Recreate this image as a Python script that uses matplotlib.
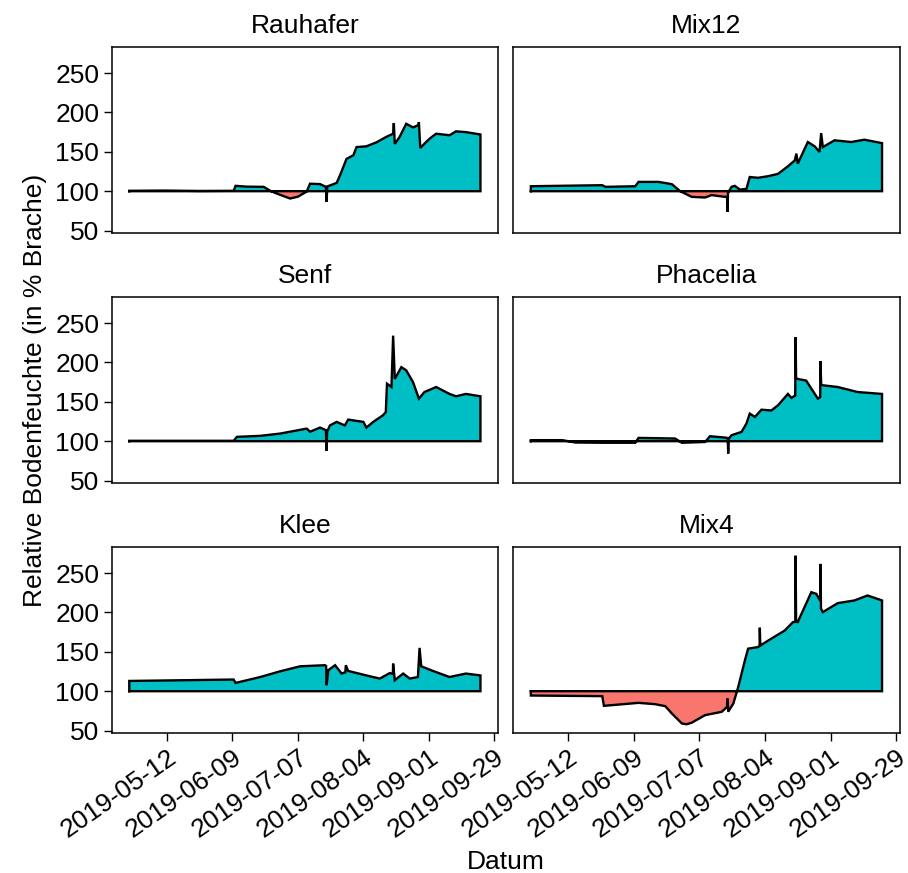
import numpy as np
import pandas as pd
import matplotlib.pyplot as plt
import matplotlib.dates as mdates

plt.rcParams['font.family'] = ['Liberation Sans', 'DejaVu Sans']

# Relative Bodenfeuchte je Variante (in % der Brache)
rauhafer_t = ['2019-04-26', '2019-05-11', '2019-05-26', '2019-06-09 14:00', '2019-06-10 10:00',
              '2019-06-15', '2019-06-22 10:00', '2019-06-25 05:00', '2019-06-28', '2019-07-03 17:00',
              '2019-07-07', '2019-07-10 19:00', '2019-07-12 05:00', '2019-07-16 12:00', '2019-07-19 00:00',
              '2019-07-19 07:00', '2019-07-19 14:00', '2019-07-23 14:00', '2019-07-25', '2019-07-27 19:00',
              '2019-07-30 17:00', '2019-08-01 02:00', '2019-08-05 07:00', '2019-08-09 14:00', '2019-08-13 19:00',
              '2019-08-16 17:00', '2019-08-17 00:00', '2019-08-17 10:00', '2019-08-19 12:00', '2019-08-22 07:00',
              '2019-08-25 05:00', '2019-08-27 14:00', '2019-08-27 17:00', '2019-08-28 07:00', '2019-09-01 07:00',
              '2019-09-04 02:00', '2019-09-09 19:00', '2019-09-12 14:00', '2019-09-16 19:00', '2019-09-23']
rauhafer_v = [100.5, 100.8, 100.3, 100.5, 106.8,
              105.8, 105.5, 100.5, 97, 90.7,
              93, 99.5, 109.5, 109, 105.5,
              86.5, 106, 110.5, 120, 141,
              145.6, 156, 157, 162, 169,
              173, 186.5, 160, 169, 185.6,
              181, 184, 187.8, 155, 166.7,
              173, 171, 176, 175, 172]

mix12_t = ['2019-04-26', '2019-05-26 12:00', '2019-05-27 22:00', '2019-06-09 14:00', '2019-06-11',
           '2019-06-19 14:00', '2019-06-25 05:00', '2019-06-28 19:00', '2019-07-03 17:00', '2019-07-09 10:00',
           '2019-07-12 05:00', '2019-07-17 22:00', '2019-07-18 19:00', '2019-07-19 00:00', '2019-07-19 05:00',
           '2019-07-20 17:00', '2019-07-22 02:00', '2019-07-24 07:00', '2019-07-27 02:00', '2019-07-28 12:00',
           '2019-08-01', '2019-08-05 07:00', '2019-08-09 14:00', '2019-08-13 19:00', '2019-08-16 17:00',
           '2019-08-17 10:00', '2019-08-18', '2019-08-22 07:00', '2019-08-25 05:00', '2019-08-27 07:00',
           '2019-08-28 00:00', '2019-08-28 17:00', '2019-09-02 17:00', '2019-09-09 19:00', '2019-09-15 10:00',
           '2019-09-23']
mix12_v = [106.3, 107.6, 105.5, 106.3, 111.8,
           111.8, 108.9, 100, 92.8, 92,
           95, 92.8, 93, 73.8, 98,
           105.5, 106.8, 102, 103, 118,
           117, 119, 122, 131.6, 139,
           147.7, 135, 162.4, 157, 149.8,
           173.8, 156, 164.6, 162.4, 165.4,
           161]

senf_t = ['2019-04-26', '2019-06-09 14:00', '2019-06-11', '2019-06-21', '2019-06-29 12:00',
          '2019-07-10 19:00', '2019-07-12 05:00', '2019-07-16 12:00', '2019-07-19 00:00', '2019-07-19 07:00',
          '2019-07-19 12:00', '2019-07-20 17:00', '2019-07-23 14:00', '2019-07-27 02:00', '2019-07-28 12:00',
          '2019-08-04', '2019-08-05 07:00', '2019-08-08 05:00', '2019-08-12 10:00', '2019-08-13 14:00',
          '2019-08-14 02:00', '2019-08-16', '2019-08-16 17:00', '2019-08-17 10:00', '2019-08-20 05:00',
          '2019-08-22 07:00', '2019-08-25 05:00', '2019-08-27 17:00', '2019-08-30 02:00', '2019-09-04 02:00',
          '2019-09-09 19:00', '2019-09-12 14:00', '2019-09-16 19:00', '2019-09-23']
senf_v = [100.5, 100.5, 105.5, 106.8, 109.7,
          116, 112, 117.3, 114, 87.8,
          112, 120, 124.5, 120, 127.4,
          124.5, 117.3, 124.5, 133, 137,
          173, 168.8, 234, 179, 194,
          190, 175, 154, 162.4, 168.8,
          160, 157, 160, 157]

phacelia_t = ['2019-04-26', '2019-05-09 12:00', '2019-05-15 02:00', '2019-05-26 12:00', '2019-06-09 14:00',
              '2019-06-11', '2019-06-26 14:00', '2019-06-29 12:00', '2019-07-09 10:00', '2019-07-11 12:00',
              '2019-07-17 22:00', '2019-07-19 02:00', '2019-07-19 07:00', '2019-07-19 12:00', '2019-07-20 17:00',
              '2019-07-25', '2019-07-27 02:00', '2019-07-28 12:00', '2019-07-30 17:00', '2019-08-02 12:00',
              '2019-08-06 17:00', '2019-08-09 14:00', '2019-08-13 19:00', '2019-08-15 07:00', '2019-08-16 22:00',
              '2019-08-17 02:00', '2019-08-17 07:00', '2019-08-18', '2019-08-21 14:00', '2019-08-26 14:00',
              '2019-08-27 14:00', '2019-08-27 17:00', '2019-08-28 00:00', '2019-08-28 17:00', '2019-09-04 02:00',
              '2019-09-12 14:00', '2019-09-23']
phacelia_v = [101.3, 101.3, 98.3, 98, 98,
              104.2, 103.4, 98, 99, 106.3,
              104.6, 104, 84.4, 103, 107.6,
              111.8, 122.4, 135, 130.8, 140,
              139, 145.6, 160, 155, 158,
              232, 180, 179, 177, 154,
              156, 201.7, 172, 171, 168.8,
              162.4, 160]

klee_t = ['2019-04-26', '2019-06-09 14:00', '2019-06-10 10:00', '2019-06-21', '2019-06-29 12:00',
          '2019-07-08', '2019-07-18 14:00', '2019-07-19 02:00', '2019-07-19 07:00', '2019-07-20',
          '2019-07-22 22:00', '2019-07-25 17:00', '2019-07-27 07:00', '2019-07-27 12:00', '2019-07-28 12:00',
          '2019-08-05 07:00', '2019-08-11', '2019-08-15 07:00', '2019-08-16 14:00', '2019-08-16 17:00',
          '2019-08-17 10:00', '2019-08-21', '2019-08-23 19:00', '2019-08-27 07:00', '2019-08-28 00:00',
          '2019-08-28 17:00', '2019-09-02 17:00', '2019-09-09 19:00', '2019-09-16 19:00', '2019-09-23']
klee_v = [113, 114.8, 110.5, 118, 125.3,
          131.6, 133, 132, 107.6, 126.6,
          133, 122.4, 124, 133, 125.7,
          120, 116, 123, 122, 135,
          114, 122.4, 116, 118, 155,
          131.6, 125.7, 118, 122.4, 120]

mix4_t = ['2019-04-26', '2019-05-26 12:00', '2019-05-27 05:00', '2019-06-11', '2019-06-18 02:00',
          '2019-06-22 10:00', '2019-06-25 05:00', '2019-06-29 12:00', '2019-07-01 12:00', '2019-07-03 17:00',
          '2019-07-09 10:00', '2019-07-16 12:00', '2019-07-18 19:00', '2019-07-19 00:00', '2019-07-19 07:00',
          '2019-07-21 12:00', '2019-07-23 14:00', '2019-07-26 10:00', '2019-07-27 19:00', '2019-08-01',
          '2019-08-01 17:00', '2019-08-01 19:00', '2019-08-02 00:00', '2019-08-06 17:00', '2019-08-12 10:00',
          '2019-08-16', '2019-08-17 00:00', '2019-08-17 02:00', '2019-08-17 07:00', '2019-08-18',
          '2019-08-23 19:00', '2019-08-25 22:00', '2019-08-27 14:00', '2019-08-27 17:00', '2019-08-27 22:00',
          '2019-08-28 17:00', '2019-09-04 02:00', '2019-09-11 05:00', '2019-09-16 19:00', '2019-09-23']
mix4_v = [94.5, 93.7, 81.4, 85.2, 83.5,
          81, 71.7, 59, 58, 60,
          69.6, 73.8, 80, 90.7, 74,
          84.4, 105.5, 139, 154, 156,
          158, 180.6, 158, 166.7, 177,
          187.8, 188, 272, 188, 187.8,
          225.7, 223.6, 215, 261.6, 205,
          200.4, 211.8, 215.2, 221.5, 215.2]

varianten = ['Rauhafer', 'Mix12', 'Senf', 'Phacelia', 'Klee', 'Mix4']
zeiten = [rauhafer_t, mix12_t, senf_t, phacelia_t, klee_t, mix4_t]
werte = [rauhafer_v, mix12_v, senf_v, phacelia_v, klee_v, mix4_v]
tick_daten = ['2019-05-12', '2019-06-09', '2019-07-07', '2019-08-04', '2019-09-01', '2019-09-29']

col_hoch = '#00BFC4'
col_tief = '#F8766D'
ref = 100


def to_num(t):
    return mdates.date2num(pd.to_datetime(t, format='mixed'))


W, H = 908, 873
fig = plt.figure(figsize=(W / 100, H / 100), dpi=100)

# gemeinsame Skalen mit 5 % Rand wie bei ggplot
alle_t = np.concatenate([to_num(t) for t in zeiten])
alle_v = np.concatenate([np.array(v) for v in werte])
tx = (alle_t.max() - alle_t.min()) * 0.05
vy = (alle_v.max() - alle_v.min()) * 0.05
xlim = (alle_t.min() - tx, alle_t.max() + tx)
ylim = (alle_v.min() - vy, alle_v.max() + vy)

lefts = [111.7, 513.3]
tops = [47.3, 297.3, 547.3]
pw, ph = 386.3, 185.4

for i, (name, t, v) in enumerate(zip(varianten, zeiten, werte)):
    r, c = divmod(i, 2)
    ax = fig.add_axes([lefts[c] / W, 1 - (tops[r] + ph) / H, pw / W, ph / H])
    x = to_num(t)
    y = np.array(v, dtype=float)

    ax.fill_between(x, y, ref, where=y >= ref, interpolate=True, color=col_hoch, lw=0)
    ax.fill_between(x, y, ref, where=y <= ref, interpolate=True, color=col_tief, lw=0)
    # Umriss der Fläche
    ox = np.concatenate([[x[0]], x, [x[-1], x[0]]])
    oy = np.concatenate([[ref], y, [ref, ref]])
    ax.plot(ox, oy, color='black', lw=1.7, solid_joinstyle='miter')

    ax.set_xlim(xlim)
    ax.set_ylim(ylim)
    ax.set_yticks([50, 100, 150, 200, 250])
    ax.set_xticks(to_num(tick_daten))
    ax.xaxis.set_major_formatter(mdates.DateFormatter('%Y-%m-%d'))
    ax.tick_params(length=5.5, width=1.0, color='black', labelsize=19, pad=3.5)
    for s in ax.spines.values():
        s.set_linewidth(1.1)
    ax.set_title(name, fontsize=19, pad=10)

    if c == 1:
        ax.tick_params(axis='y', left=False, labelleft=False)
    if r < 2:
        ax.tick_params(axis='x', bottom=False, labelbottom=False)
    else:
        for lab in ax.get_xticklabels():
            lab.set_rotation(35)
            lab.set_ha('right')
            lab.set_va('top')
            lab.set_rotation_mode('anchor')

fig.text(505.5 / W, 4 / H, 'Datum', fontsize=19, ha='center', va='baseline')
fig.text(42 / W, 1 - 390 / H, 'Relative Bodenfeuchte (in % Brache)', fontsize=19,
         rotation=90, ha='center', va='baseline', rotation_mode='anchor')

fig.savefig('out.png', dpi=100)
